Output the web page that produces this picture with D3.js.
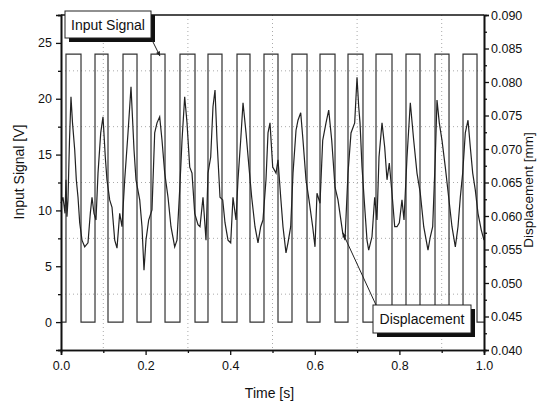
<!DOCTYPE html>
<html>
<head>
<meta charset="utf-8">
<script src="https://cdn.jsdelivr.net/npm/d3@7"></script>
<style>
  body { margin: 0; background: #fff; }
  svg text { font-family: "Liberation Sans", Arial, sans-serif; fill: #111; }
</style>
</head>
<body>
<svg id="chart" width="538" height="404"></svg>
<script>
// input signal: square wave 0 / 24 V, edge times
const riseTimes = [0.0118, 0.0804, 0.1466, 0.2128, 0.2813, 0.3475, 0.4161, 0.4799,
  0.5461, 0.6123, 0.6785, 0.7447, 0.8156, 0.8842, 0.9504];
const fallTimes = [0.0473, 0.1111, 0.1797, 0.2459, 0.3168, 0.3806, 0.4468, 0.5130,
  0.5816, 0.6478, 0.7139, 0.7825, 0.8487, 0.9173, 0.9835];
const lowVolt = 0, highVolt = 24;

// displacement [mm] vs time [s]
const dispTime = [0.0000, 0.0047, 0.0095, 0.0118, 0.0141, 0.0165, 0.0201, 0.0236, 0.0272, 0.0324,
  0.0362, 0.0402, 0.0442, 0.0496, 0.0560, 0.0638, 0.0693, 0.0733, 0.0780, 0.0827,
  0.0875, 0.0939, 0.0993, 0.1047, 0.1087, 0.1151, 0.1206, 0.1270, 0.1324, 0.1388,
  0.1442, 0.1506, 0.1584, 0.1655, 0.1726, 0.1773, 0.1861, 0.1915, 0.1962, 0.2009,
  0.2073, 0.2151, 0.2215, 0.2270, 0.2333, 0.2388, 0.2452, 0.2530, 0.2600, 0.2688,
  0.2742, 0.2806, 0.2861, 0.2924, 0.2979, 0.3043, 0.3097, 0.3161, 0.3239, 0.3286,
  0.3357, 0.3428, 0.3475, 0.3539, 0.3593, 0.3641, 0.3688, 0.3759, 0.3823, 0.3877,
  0.3948, 0.4012, 0.4066, 0.4137, 0.4184, 0.4248, 0.4303, 0.4374, 0.4444, 0.4508,
  0.4586, 0.4657, 0.4721, 0.4775, 0.4846, 0.4894, 0.4941, 0.5005, 0.5083, 0.5130,
  0.5194, 0.5248, 0.5319, 0.5366, 0.5430, 0.5485, 0.5556, 0.5603, 0.5667, 0.5721,
  0.5792, 0.5863, 0.5950, 0.6005, 0.6052, 0.6123, 0.6187, 0.6265, 0.6329, 0.6400,
  0.6478, 0.6548, 0.6660, 0.6714, 0.6785, 0.6856, 0.6943, 0.6998, 0.7038, 0.7069,
  0.7116, 0.7180, 0.7234, 0.7274, 0.7352, 0.7416, 0.7470, 0.7518, 0.7589, 0.7652,
  0.7707, 0.7761, 0.7825, 0.7889, 0.7943, 0.7998, 0.8061, 0.8109, 0.8180, 0.8258,
  0.8338, 0.8416, 0.8494, 0.8575, 0.8676, 0.8731, 0.8787, 0.8849, 0.8889, 0.8943,
  0.9007, 0.9085, 0.9165, 0.9243, 0.9322, 0.9385, 0.9440, 0.9496, 0.9558, 0.9622,
  0.9676, 0.9733, 0.9794, 0.9858, 0.9936, 1.0000];
const dispMm = [0.0619, 0.0628, 0.0604, 0.0654, 0.0599, 0.0624, 0.0713, 0.0778, 0.0739, 0.0699,
  0.0654, 0.0628, 0.0590, 0.0564, 0.0554, 0.0560, 0.0604, 0.0628, 0.0604, 0.0594,
  0.0664, 0.0724, 0.0748, 0.0688, 0.0654, 0.0624, 0.0613, 0.0564, 0.0552, 0.0604,
  0.0584, 0.0654, 0.0724, 0.0793, 0.0699, 0.0654, 0.0624, 0.0584, 0.0519, 0.0564,
  0.0594, 0.0609, 0.0724, 0.0739, 0.0748, 0.0713, 0.0664, 0.0628, 0.0584, 0.0554,
  0.0564, 0.0639, 0.0713, 0.0778, 0.0739, 0.0673, 0.0664, 0.0604, 0.0587, 0.0584,
  0.0628, 0.0564, 0.0664, 0.0688, 0.0763, 0.0788, 0.0713, 0.0628, 0.0624, 0.0590,
  0.0564, 0.0560, 0.0628, 0.0594, 0.0654, 0.0713, 0.0769, 0.0724, 0.0673, 0.0628,
  0.0584, 0.0560, 0.0584, 0.0594, 0.0654, 0.0724, 0.0739, 0.0673, 0.0664, 0.0684,
  0.0628, 0.0584, 0.0545, 0.0560, 0.0584, 0.0664, 0.0728, 0.0743, 0.0754, 0.0713,
  0.0654, 0.0624, 0.0584, 0.0554, 0.0634, 0.0619, 0.0713, 0.0739, 0.0758, 0.0713,
  0.0643, 0.0624, 0.0575, 0.0564, 0.0664, 0.0724, 0.0739, 0.0807, 0.0763, 0.0739,
  0.0673, 0.0613, 0.0564, 0.0549, 0.0569, 0.0628, 0.0594, 0.0688, 0.0739, 0.0703,
  0.0654, 0.0679, 0.0634, 0.0584, 0.0584, 0.0590, 0.0624, 0.0594, 0.0688, 0.0769,
  0.0713, 0.0664, 0.0634, 0.0584, 0.0549, 0.0569, 0.0584, 0.0688, 0.0773, 0.0739,
  0.0713, 0.0673, 0.0628, 0.0584, 0.0554, 0.0584, 0.0628, 0.0664, 0.0724, 0.0743,
  0.0703, 0.0664, 0.0639, 0.0604, 0.0579, 0.0564];

const xTicks = [0.0, 0.2, 0.4, 0.6, 0.8, 1.0];
const voltTicks = [0, 5, 10, 15, 20, 25];
const mmTicks = [0.040, 0.045, 0.050, 0.055, 0.060, 0.065, 0.070, 0.075, 0.080, 0.085, 0.090];

const margin = {top: 15, right: 54, bottom: 54, left: 61},
width = 538 - margin.left - margin.right,
height = 404 - margin.top - margin.bottom;

const svg = d3.select("#chart");
const g = svg.append("g").attr("transform", "translate(" + margin.left + "," + margin.top + ")");

let x = d3.scaleLinear().domain([0, 1]).range([0, width]);
let yV = d3.scaleLinear().domain([-2.5, 27.5]).range([height, 0]);
let yMm = d3.scaleLinear().domain([0.040, 0.090]).range([height, 0]);

// dotted grid at the minor positions
let gridX = d3.range(0.1, 1, 0.2);
let gridY = d3.range(2.5, 25, 5);

g.selectAll(".gx").data(gridX).join("line")
  .attr("x1", d => x(d)).attr("x2", d => x(d))
  .attr("y1", 0).attr("y2", height)
  .attr("stroke", "#aaa").attr("stroke-width", 1).attr("stroke-dasharray", "1,3");

g.selectAll(".gy").data(gridY).join("line")
  .attr("x1", 0).attr("x2", width)
  .attr("y1", d => yV(d)).attr("y2", d => yV(d))
  .attr("stroke", "#aaa").attr("stroke-width", 1).attr("stroke-dasharray", "1,3");

// square wave
let square = [[0, lowVolt]];
riseTimes.forEach(function(r, i) {
  square.push([r, lowVolt], [r, highVolt], [fallTimes[i], highVolt], [fallTimes[i], lowVolt]);
});
square.push([1, lowVolt]);

g.append("path")
  .datum(square)
  .attr("fill", "none")
  .attr("stroke", "#333")
  .attr("stroke-width", 1.2)
  .attr("d", d3.line().x(d => x(d[0])).y(d => yV(d[1])));

// displacement
let disp = dispTime.map((t, i) => [t, dispMm[i]]);
g.append("path")
  .datum(disp)
  .attr("fill", "none")
  .attr("stroke", "#222")
  .attr("stroke-width", 1.2)
  .attr("d", d3.line().x(d => x(d[0])).y(d => yMm(d[1])));

// axes
g.append("g").attr("transform", "translate(0," + height + ")")
  .call(d3.axisBottom(x).tickValues(xTicks).tickFormat(d3.format(".1f")).tickSize(5).tickPadding(6));
g.append("g").attr("transform", "translate(0," + height + ")")
  .call(d3.axisBottom(x).tickValues(gridX).tickFormat("").tickSize(3));

g.append("g")
  .call(d3.axisLeft(yV).tickValues(voltTicks).tickSize(5).tickPadding(4));
g.append("g")
  .call(d3.axisLeft(yV).tickValues(d3.range(-2.5, 28, 5)).tickFormat("").tickSize(3));

g.append("g").attr("transform", "translate(" + width + ",0)")
  .call(d3.axisRight(yMm).tickValues(mmTicks).tickFormat(d3.format(".3f")).tickSize(5).tickPadding(2));
g.append("g").attr("transform", "translate(" + width + ",0)")
  .call(d3.axisRight(yMm).tickValues(d3.range(0.0425, 0.09, 0.005)).tickFormat("").tickSize(3));

g.selectAll(".domain").attr("stroke", "#111").attr("stroke-width", 1.6);
g.selectAll(".tick line").attr("stroke", "#111").attr("stroke-width", 1.3);
g.selectAll(".tick text").attr("font-size", 12.5).attr("fill", "#111");

// top frame
g.append("line").attr("x1", 0).attr("x2", width).attr("y1", 0).attr("y2", 0)
  .attr("stroke", "#111").attr("stroke-width", 1.6);

// axis titles
svg.append("text")
  .attr("x", margin.left + width / 2 - 3).attr("y", 398)
  .attr("text-anchor", "middle").attr("font-size", 14)
  .text("Time [s]");

svg.append("text")
  .attr("transform", "translate(24,172) rotate(-90)")
  .attr("text-anchor", "middle").attr("font-size", 14)
  .text("Input Signal [V]");

svg.append("text")
  .attr("transform", "translate(533,190) rotate(-90)")
  .attr("text-anchor", "middle").attr("font-size", 13.5)
  .text("Displacement [mm]");

// annotation boxes with shadow + arrows
function labelBox(bx, by, bw, bh, txt) {
  svg.append("rect").attr("x", bx + 4).attr("y", by + 4).attr("width", bw).attr("height", bh)
    .attr("fill", "#111");
  svg.append("rect").attr("x", bx).attr("y", by).attr("width", bw).attr("height", bh)
    .attr("fill", "#fff").attr("stroke", "#222").attr("stroke-width", 1);
  svg.append("text").attr("x", bx + bw / 2).attr("y", by + bh / 2 + 5)
    .attr("text-anchor", "middle").attr("font-size", 14)
    .text(txt);
}

function arrow(x1, y1, x2, y2) {
  svg.append("line").attr("x1", x1).attr("y1", y1).attr("x2", x2).attr("y2", y2)
    .attr("stroke", "#222").attr("stroke-width", 1);
  let a = Math.atan2(y2 - y1, x2 - x1), L = 5, w = 0.45;
  let p = [[x2, y2],
    [x2 - L * Math.cos(a - w), y2 - L * Math.sin(a - w)],
    [x2 - L * Math.cos(a + w), y2 - L * Math.sin(a + w)]];
  svg.append("path").attr("d", "M" + p.join("L") + "Z").attr("fill", "#222");
}

labelBox(65, 11, 86, 27, "Input Signal");
arrow(152, 40, margin.left + x(0.234), margin.top + yV(highVolt) + 2);

labelBox(373, 305, 98, 28, "Displacement");
arrow(376, 305, margin.left + x(0.666), margin.top + yMm(0.0575));
</script>
</body>
</html>
